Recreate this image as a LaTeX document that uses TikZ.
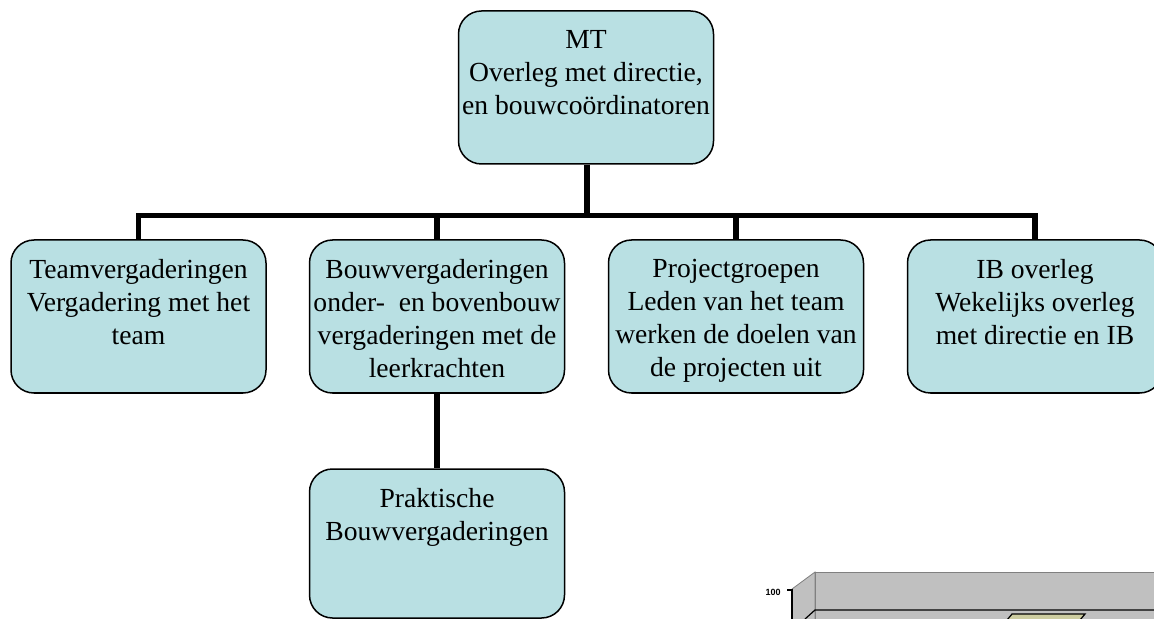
\documentclass[tikz,border=0pt]{standalone}
\usepackage{fontspec}
\setmainfont{Liberation Serif}
\setsansfont{Liberation Sans}
\usepackage{tikz}
\usetikzlibrary{positioning}
\definecolor{blokblauw}{RGB}{185,224,227}
\definecolor{wandgrijs}{RGB}{192,192,192}
\definecolor{randgrijs}{RGB}{128,128,128}
\definecolor{staafgeel}{RGB}{204,204,160}

\begin{document}
\begin{tikzpicture}[x=0.5pt, y=-0.5pt,
  blok/.style={draw, line width=0.75pt, fill=blokblauw, rounded corners=11.5pt,
    minimum width=127.5pt, minimum height=76.5pt, inner sep=0pt},
  tekst/.style={align=center, inner sep=0pt, anchor=north,
    font=\fontsize{13.8}{16.5}\selectfont},
  verbind/.style={line width=2.75pt, line join=miter}]
  \useasboundingbox (0,0) rectangle (1154,619);
  \clip (0,0) rectangle (1154,619);

  \node[blok] (mt) at (586,87.5) {};
  \node[blok] (team) at (138.5,316.5) {};
  \node[blok] (bouw) at (437,316.5) {};
  \node[blok] (project) at (736,316.5) {};
  \node[blok] (ib) at (1035,316.5) {};
  \node[blok, minimum height=74.5pt] (prak) at (437,543.5) {};

  \node[tekst] (mt-t) at ([yshift=-9.8pt]mt.north) {MT\\Overleg met directie,\\en bouwcoördinatoren};
  \node[tekst] (team-t) at ([yshift=-9.8pt]team.north) {Teamvergaderingen\\Vergadering met het\\team};
  \node[tekst] (bouw-t) at ([yshift=-9.8pt]bouw.north) {Bouwvergaderingen\\onder-\ \ en bovenbouw\\vergaderingen met de\\leerkrachten};
  \node[tekst] (project-t) at ([yshift=-9.8pt]project.north) {Projectgroepen\\Leden van het team\\werken de doelen van\\de projecten uit};
  \node[tekst] (ib-t) at ([yshift=-9.8pt]ib.north) {IB overleg\\Wekelijks overleg\\met directie en IB};
  \node[tekst] (prak-t) at ([yshift=-9.8pt]prak.north) {Praktische\\Bouwvergaderingen};

  \coordinate (bus) at (587,215.5);
  \draw[verbind] (mt.south -| bus) -- (bus);
  \draw[verbind] (team.north) |- (bus) -| (ib.north);
  \draw[verbind] (bouw.north) -- (bouw.north |- bus);
  \draw[verbind] (project.north) -- (project.north |- bus);
  \draw[verbind] (bouw.south) -- (prak.north);

  \draw[randgrijs, fill=wandgrijs] (792,589) -- (815,572) -- (815,630) -- (792,630) -- cycle;
  \draw[randgrijs, fill=wandgrijs] (815,572) rectangle (1170,630);
  \draw[line width=0.6pt] (805,619) -- (815,610) -- (1170,610);
  \draw[line width=0.6pt] (792,589) -- (792,630);
  \draw[line width=0.6pt] (787,590) -- (792,590);
  \draw (781,592) node[anchor=east, inner sep=0pt] {\sffamily\bfseries\fontsize{4.5}{5}\selectfont 100};
  \draw[fill=staafgeel, line width=0.6pt] (1007,620) -- (1012,614) -- (1085,614) -- (1080,620) -- cycle;

\end{tikzpicture}
\end{document}
